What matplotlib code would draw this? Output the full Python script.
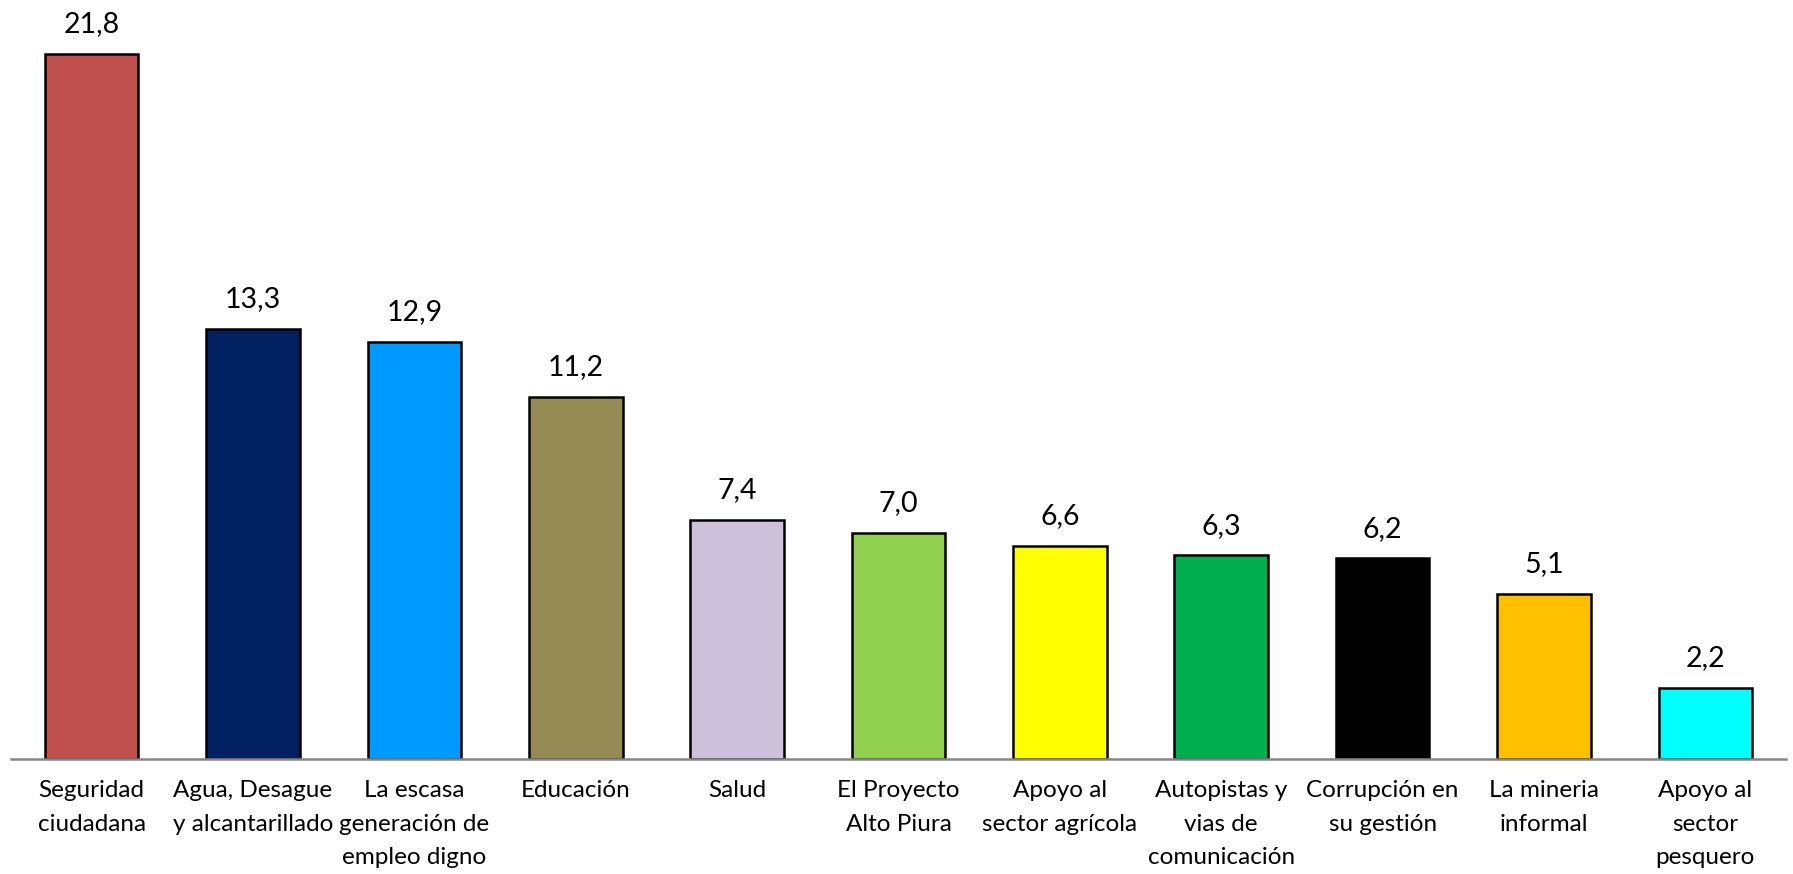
import matplotlib
matplotlib.use("Agg")
import matplotlib.pyplot as plt

categorias = ["Seguridad\nciudadana", "Agua, Desague\ny alcantarillado",
              "La escasa\ngeneración de\nempleo digno", "Educación", "Salud",
              "El Proyecto\nAlto Piura", "Apoyo al\nsector agrícola",
              "Autopistas y\nvias de\ncomunicación", "Corrupción en\nsu gestión",
              "La mineria\ninformal", "Apoyo al\nsector\npesquero"]
valores = [21.8, 13.3, 12.9, 11.2, 7.4, 7.0, 6.6, 6.3, 6.2, 5.1, 2.2]
colores = ["#C0504D", "#002060", "#0099FF", "#948A54", "#CCC0DA", "#92D050",
           "#FFFF00", "#00B050", "#000000", "#FFC000", "#00FFFF"]

plt.rcParams['font.family'] = ['Lato', 'DejaVu Sans']

fig = plt.figure(figsize=(17.93, 8.74), dpi=100)
ax = fig.add_axes([11 / 1793, (874 - 759) / 874, 1775 / 1793, 759 / 874])

x = range(len(valores))
bars = ax.bar(x, valores, width=0.58, color=colores, edgecolor="black", linewidth=1.8)

for b, v in zip(bars, valores):
    ax.annotate(f"{v:.1f}".replace(".", ","), (b.get_x() + b.get_width() / 2, v),
                xytext=(0, 12), textcoords="offset points", ha="center", va="bottom",
                fontsize=20.5)

# category labels drawn as text so the line spacing can be controlled
for xi, lab in zip(x, categorias):
    ax.annotate(lab, (xi, 0), xycoords=("data", "axes fraction"),
                xytext=(0, -15), textcoords="offset points", ha="center", va="top",
                fontsize=17.5, linespacing=1.75, annotation_clip=False)

ax.set_xlim(-0.5, len(valores) - 0.5)
ax.set_ylim(0, 23.47)
ax.set_xticks([])
ax.set_yticks([])
for s in ["top", "right", "left"]:
    ax.spines[s].set_visible(False)
ax.spines["bottom"].set_color("#868686")
ax.spines["bottom"].set_linewidth(1.8)

fig.savefig("out.png", dpi=100)
